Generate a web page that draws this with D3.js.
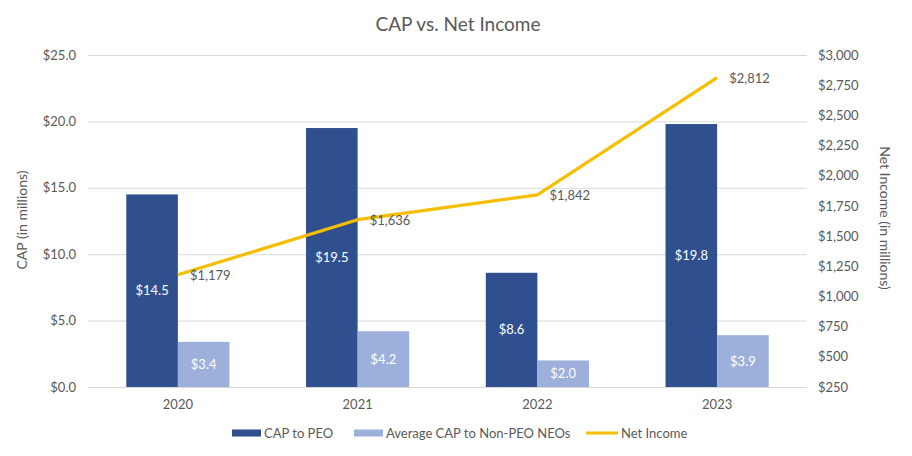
<!DOCTYPE html>
<html>
<head>
<meta charset="utf-8">
<script src="https://cdn.jsdelivr.net/npm/d3@7"></script>
<style>
  body { margin: 0; background: #fff; }
  text { font-family: Lato, "Open Sans", sans-serif; }
</style>
</head>
<body>
<script>
// Data
var years = ["2020", "2021", "2022", "2023"];
var capPeo = [14.5, 19.5, 8.6, 19.8];
var capNonPeo = [3.4, 4.2, 2.0, 3.9];
var netIncome = [1179, 1636, 1842, 2812];
var leftTicks = [0, 5, 10, 15, 20, 25];
var rightTicks = [250, 500, 750, 1000, 1250, 1500, 1750, 2000, 2250, 2500, 2750, 3000];
var seriesNames = ["CAP to PEO", "Average CAP to Non-PEO NEOs", "Net Income"];

var W = 912, H = 456;
var plotL = 88, plotR = 807, plotT = 55, plotB = 387;
var grey = "#595959";
var dark = "#2F4F8F", light = "#9DB0DB", gold = "#F5BE00";

var svg = d3.select("body").append("svg")
    .attr("width", W)
    .attr("height", H);

var x = d3.scaleBand().domain(years).range([plotL, plotR]).padding(0);
var x1 = d3.scaleBand().domain([0, 1])
    .range([x.bandwidth() * 0.213, x.bandwidth() * 0.787]);
var yL = d3.scaleLinear().domain([0, 25]).range([plotB, plotT]);
var yR = d3.scaleLinear().domain([250, 3000]).range([plotB, plotT]);

var money1 = function(d) { return "$" + d3.format(".1f")(d); };
var moneyC = function(d) { return "$" + d3.format(",")(d); };

// title
svg.append("text")
    .attr("x", W / 2 + 2).attr("y", 31)
    .attr("text-anchor", "middle")
    .attr("fill", grey)
    .style("font-size", "19px")
    .text("CAP vs. Net Income");

// gridlines
svg.selectAll("line.grid")
    .data(leftTicks)
  .enter().append("line")
    .attr("class", "grid")
    .attr("x1", plotL).attr("x2", plotR)
    .attr("y1", function(d) { return yL(d) + 0.5; })
    .attr("y2", function(d) { return yL(d) + 0.5; })
    .attr("stroke", "#D9D9D9");

// left axis
var axL = svg.append("g")
    .attr("transform", "translate(" + (plotL - 12) + ",0)")
    .call(d3.axisLeft(yL).tickValues(leftTicks).tickFormat(money1).tickSize(0));
axL.select(".domain").remove();
axL.selectAll("text").attr("fill", grey).style("font-size", "13px").attr("x", 0);

// right axis
var axR = svg.append("g")
    .attr("transform", "translate(" + (plotR + 11) + ",0)")
    .call(d3.axisRight(yR).tickValues(rightTicks).tickFormat(moneyC).tickSize(0));
axR.select(".domain").remove();
axR.selectAll("text").attr("fill", grey).style("font-size", "13px").attr("x", 0);

// x axis
var axX = svg.append("g")
    .attr("transform", "translate(0," + (plotB + 10) + ")")
    .call(d3.axisBottom(x).tickSize(0));
axX.select(".domain").remove();
axX.selectAll("text").attr("fill", grey).style("font-size", "13px");

// axis titles
svg.append("text")
    .attr("transform", "translate(27,220) rotate(-90)")
    .attr("text-anchor", "middle")
    .attr("fill", grey)
    .style("font-size", "14px")
    .text("CAP (in millions)");

svg.append("text")
    .attr("transform", "translate(880,218) rotate(90)")
    .attr("text-anchor", "middle")
    .attr("fill", grey)
    .style("font-size", "14px")
    .text("Net Income (in millions)");

// bars
var barSeries = [capPeo, capNonPeo];
var barColors = [dark, light];
barSeries.forEach(function(vals, s) {
    var g = svg.append("g");
    g.selectAll("rect")
        .data(vals)
      .enter().append("rect")
        .attr("x", function(d, i) { return x(years[i]) + x1(s); })
        .attr("width", x1.bandwidth())
        .attr("y", function(d) { return yL(d); })
        .attr("height", function(d) { return yL(0) - yL(d); })
        .attr("fill", barColors[s]);
    g.selectAll("text")
        .data(vals)
      .enter().append("text")
        .attr("x", function(d, i) { return x(years[i]) + x1(s) + x1.bandwidth() / 2; })
        .attr("y", function(d) { return (yL(d) + yL(0)) / 2; })
        .attr("dy", "0.35em")
        .attr("text-anchor", "middle")
        .attr("fill", "#fff")
        .style("font-size", "13px")
        .text(money1);
});

// net income line
var cx = function(i) { return x(years[i]) + x.bandwidth() / 2; };
var line = d3.line()
    .x(function(d, i) { return cx(i); })
    .y(function(d) { return yR(d); });

svg.append("path")
    .datum(netIncome)
    .attr("d", line)
    .attr("fill", "none")
    .attr("stroke", gold)
    .attr("stroke-width", 3.2)
    .attr("stroke-linejoin", "round");

svg.selectAll("text.ni")
    .data(netIncome)
  .enter().append("text")
    .attr("class", "ni")
    .attr("x", function(d, i) { return cx(i) + 12; })
    .attr("y", function(d) { return yR(d) + 1; })
    .attr("dy", "0.35em")
    .attr("fill", grey)
    .style("font-size", "13px")
    .text(moneyC);

// legend
var lg = svg.append("g").attr("transform", "translate(0,433)");
var legendItems = [
    {x: 232, type: "rect", color: dark},
    {x: 354, type: "rect", color: light},
    {x: 586, type: "line", color: gold}
];
legendItems.forEach(function(it, i) {
    if (it.type === "rect") {
        lg.append("rect").attr("x", it.x).attr("y", -3.5)
            .attr("width", 29).attr("height", 7).attr("fill", it.color);
    } else {
        lg.append("line").attr("x1", it.x).attr("x2", it.x + 32)
            .attr("y1", 0).attr("y2", 0)
            .attr("stroke", it.color).attr("stroke-width", 3);
    }
    lg.append("text")
        .attr("x", it.x + (it.type === "rect" ? 32 : 35))
        .attr("y", 0).attr("dy", "0.35em")
        .attr("fill", grey)
        .style("font-size", "13px")
        .text(seriesNames[i]);
});
</script>
</body>
</html>
